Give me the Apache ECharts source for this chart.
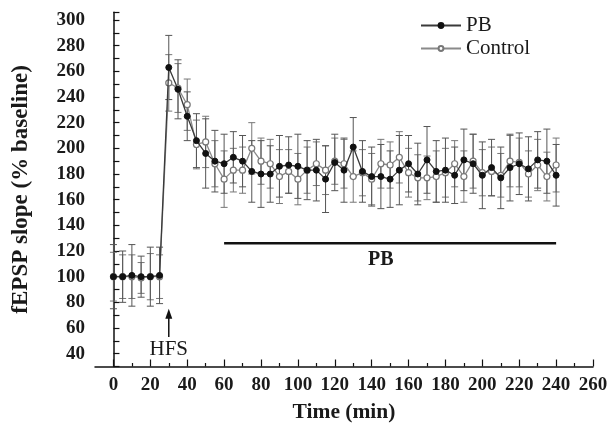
<!DOCTYPE html>
<html>
<head>
<meta charset="utf-8">
<script src="https://cdn.jsdelivr.net/npm/echarts@6/dist/echarts.min.js"></script>
<style>
html,body{margin:0;padding:0;background:#fff;}
#chart{width:615px;height:425px;}
</style>
</head>
<body>
<div id="chart"></div>
<script>
// ---- data ----
const times = [0,5,10,15,20,25,30,35,40,45,50,55,60,65,70,75,80,85,90,95,100,105,110,115,120,125,130,135,140,145,150,155,160,165,170,175,180,185,190,195,200,205,210,215,220,225,230,235,240];
const pbValues = [100,100,101,100,100,101,
  263,246,225,206,196,190,188,193,190,182,
  180,180,186,187,186,183,183,176,189,183,
  201,182,178,178,176,183,188,180,191,182,
  183,179,191,188,179,185,177,185,188,184,
  191,190,179];
const pbErr = [25,20,24,16,23,22,
  25,23,19,21,27,24,23,20,20,24,
  26,22,24,22,25,23,24,26,22,25,
  23,24,23,25,22,27,22,24,26,24,
  25,22,24,23,26,22,24,26,24,25,
  22,25,24];
const controlValues = [100,100,100,99,100,100,
  251,247,234,203,205,188,176,183,183,200,
  190,188,178,182,176,183,188,183,190,188,
  178,181,176,188,187,193,181,177,177,178,
  181,188,178,190,181,182,179,190,189,180,
  187,178,187];
const controlErr = [19,17,17,12,18,17,
  22,19,20,19,20,18,22,17,18,20,
  18,19,21,17,20,18,17,19,18,19,
  20,18,20,19,18,20,19,18,17,20,
  19,18,20,21,18,19,17,20,19,18,
  20,19,21];
const xTickLabels = [0,20,40,60,80,100,120,140,160,180,200,220,240,260];
const xMinorTicks = [10,30,50,70,90,110,130,150,170,190,210,230,250];
const yTickLabels = [40,60,80,100,120,140,160,180,200,220,240,260,280,300];
// annotations (data coordinates)
const hfsTime = 30, hfsArrowTop = 75, hfsArrowBottom = 53, hfsTextLevel = 43;
const pbBarStart = 60, pbBarEnd = 240, pbBarLevel = 126, pbTextTime = 145, pbTextLevel = 113;

const FONT = '"Liberation Serif","Times New Roman",serif';
const pbData = times.map((t,i)=>[t,pbValues[i]]);
const ctlData = times.map((t,i)=>[t,controlValues[i]]);
const pbErrData = times.map((t,i)=>[t,pbValues[i],pbErr[i]]);
const ctlErrData = times.map((t,i)=>[t,controlValues[i],controlErr[i]]);

function errRender(color){
  return function(params, api){
    const x = api.value(0), v = api.value(1), e = api.value(2);
    const top = api.coord([x, v+e]), bot = api.coord([x, v-e]);
    const h = 3.5;
    const st = {stroke: color, lineWidth: 1};
    return {type:'group', children:[
      {type:'line', shape:{x1:top[0],y1:top[1],x2:bot[0],y2:bot[1]}, style:st},
      {type:'line', shape:{x1:top[0]-h,y1:top[1],x2:top[0]+h,y2:top[1]}, style:st},
      {type:'line', shape:{x1:bot[0]-h,y1:bot[1],x2:bot[0]+h,y2:bot[1]}, style:st}
    ]};
  };
}

const chart = echarts.init(document.getElementById('chart'), null, {renderer:'canvas'});
chart.setOption({
  animation:false,
  backgroundColor:'#fff',
  grid:{left:95, right:22, top:12.3, bottom:58.5, containLabel:false, outerBoundsMode:'none'},
  legend:{
    orient:'vertical', left:415, top:10, itemGap:2,
    itemWidth:40, itemHeight:6,
    data:['PB','Control'],
    textStyle:{fontFamily:FONT, fontSize:21, color:'#1a1a1a'}
  },
  xAxis:[{
    type:'value', min:-10, max:260,
    name:'Time (min)', nameLocation:'middle', nameGap:35,
    nameTextStyle:{fontFamily:FONT, fontSize:21.5, fontWeight:'bold', color:'#1a1a1a'},
    axisLine:{lineStyle:{color:'#111', width:1.5}},
    axisTick:{inside:true, length:7, customValues:xTickLabels, lineStyle:{color:'#111', width:1.2}},
    axisLabel:{customValues:xTickLabels, fontFamily:FONT, fontSize:19, fontWeight:'bold', color:'#1a1a1a', margin:9},
    splitLine:{show:false}
  },{
    type:'value', min:-10, max:260, position:'bottom',
    axisLine:{show:false},
    axisTick:{inside:true, length:3.5, customValues:xMinorTicks, lineStyle:{color:'#111', width:1.2}},
    axisLabel:{show:false},
    splitLine:{show:false}
  }],
  yAxis:{
    type:'value', min:30, max:306, interval:10,
    name:'fEPSP slope (% baseline)', nameLocation:'middle', nameGap:62, nameRotate:90,
    nameTextStyle:{fontFamily:FONT, fontSize:23, fontWeight:'bold', color:'#1a1a1a'},
    axisLine:{lineStyle:{color:'#111', width:1.5}},
    axisTick:{inside:true, length:6, lineStyle:{color:'#111', width:1.2}},
    axisLabel:{customValues:yTickLabels, fontFamily:FONT, fontSize:19, fontWeight:'bold', color:'#1a1a1a', margin:10},
    splitLine:{show:false}
  },
  series:[
    {type:'custom', name:'ctlErr', data:ctlErrData, renderItem:errRender('#777'), z:1, silent:true},
    {type:'custom', name:'pbErr', data:pbErrData, renderItem:errRender('#555'), z:1, silent:true},
    {type:'line', name:'Control', data:ctlData, symbol:'circle', symbolSize:6, showAllSymbol:true,
      lineStyle:{color:'#8a8a8a', width:1.3},
      itemStyle:{color:'#fff', borderColor:'#777', borderWidth:1.2}, z:3},
    {type:'line', name:'PB', data:pbData, symbol:'circle', symbolSize:6, showAllSymbol:true,
      lineStyle:{color:'#3a3a3a', width:1.3},
      itemStyle:{color:'#111', borderColor:'#111', borderWidth:1}, z:4},
    {type:'custom', name:'annot', silent:true, z:5,
      data:[[hfsTime, hfsArrowTop, hfsArrowBottom, hfsTextLevel, pbBarStart, pbBarEnd, pbBarLevel, pbTextTime, pbTextLevel]],
      renderItem:function(params, api){
        const top = api.coord([api.value(0), api.value(1)]);
        const bot = api.coord([api.value(0), api.value(2)]);
        const txt = api.coord([api.value(0), api.value(3)]);
        const b1 = api.coord([api.value(4), api.value(6)]);
        const b2 = api.coord([api.value(5), api.value(6)]);
        const pt = api.coord([api.value(7), api.value(8)]);
        return {type:'group', children:[
          {type:'line', shape:{x1:top[0],y1:top[1]+6,x2:bot[0],y2:bot[1]}, style:{stroke:'#111', lineWidth:1.5}},
          {type:'polygon', shape:{points:[[top[0],top[1]],[top[0]-3.5,top[1]+10],[top[0]+3.5,top[1]+10]]}, style:{fill:'#111'}},
          {type:'text', x:txt[0], y:txt[1], style:{text:'HFS', font:'21px '+FONT, fill:'#1a1a1a', align:'center', verticalAlign:'middle'}},
          {type:'line', shape:{x1:b1[0],y1:b1[1],x2:b2[0],y2:b2[1]}, style:{stroke:'#111', lineWidth:2.5}},
          {type:'text', x:pt[0], y:pt[1], style:{text:'PB', font:'bold 20px '+FONT, fill:'#1a1a1a', align:'center', verticalAlign:'middle'}}
        ]};
      }
    }
  ]
});
</script>
</body>
</html>
